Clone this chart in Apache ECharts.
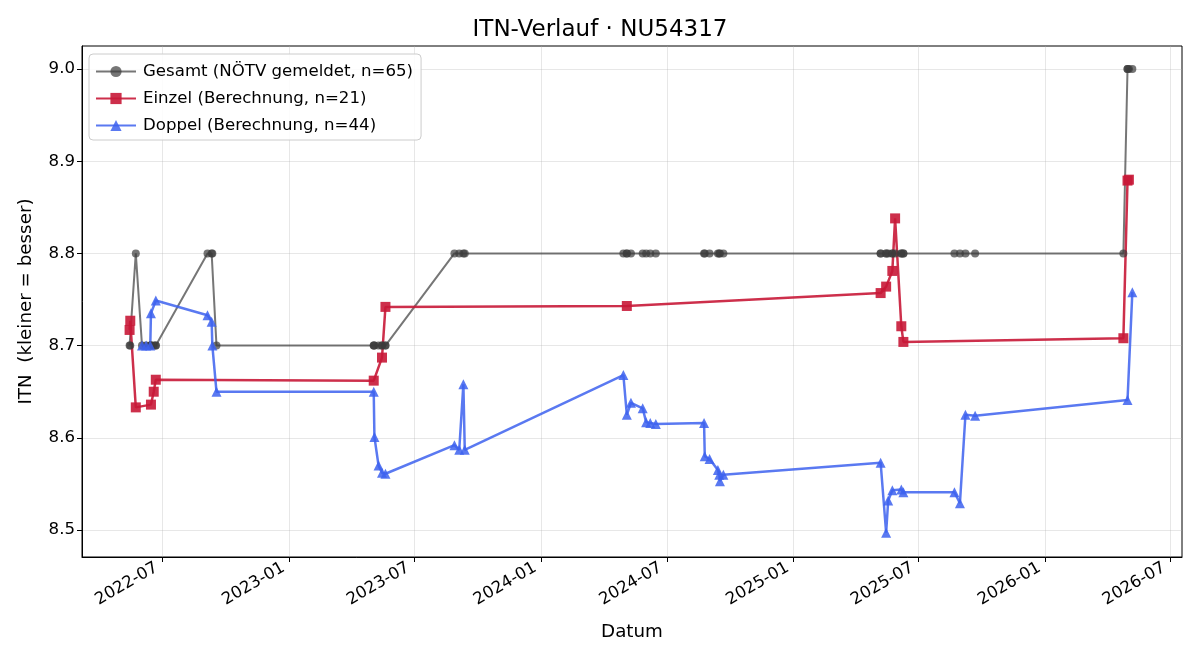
<!DOCTYPE html>
<html>
<head>
<meta charset="utf-8">
<title>ITN-Verlauf</title>
<script src="https://cdn.jsdelivr.net/npm/echarts@6/dist/echarts.min.js"></script>
<style>
  html, body { margin: 0; padding: 0; background: #fff; }
  #chart { width: 1200px; height: 660px; }
</style>
</head>
<body>
<div id="chart"></div>
<script>
// Gesamt (NÖTV gemeldet)
const gesamtDates = [
  '2022-05-14', '2022-05-15', '2022-05-23', '2022-06-01', '2022-06-07', '2022-06-13',
  '2022-06-14', '2022-06-14', '2022-06-18', '2022-06-21', '2022-06-21', '2022-09-04',
  '2022-09-10', '2022-09-11', '2022-09-17', '2023-05-03', '2023-05-03', '2023-05-04',
  '2023-05-10', '2023-05-15', '2023-05-15', '2023-05-20', '2023-05-20', '2023-08-28',
  '2023-09-04', '2023-09-10', '2023-09-12', '2024-04-29', '2024-05-04', '2024-05-04',
  '2024-05-10', '2024-05-27', '2024-06-01', '2024-06-07', '2024-06-15', '2024-08-24',
  '2024-08-25', '2024-09-01', '2024-09-13', '2024-09-15', '2024-09-16', '2024-09-21',
  '2025-05-07', '2025-05-07', '2025-05-15', '2025-05-15', '2025-05-18', '2025-05-24',
  '2025-05-24', '2025-05-28', '2025-06-06', '2025-06-06', '2025-06-09', '2025-06-09',
  '2025-08-22', '2025-08-30', '2025-09-07', '2025-09-21', '2026-04-24', '2026-04-30',
  '2026-04-30', '2026-05-02', '2026-05-07'
];
const gesamtValues = [
  8.70, 8.70, 8.80, 8.70, 8.70, 8.70,
  8.70, 8.70, 8.70, 8.70, 8.70, 8.80,
  8.80, 8.80, 8.70, 8.70, 8.70, 8.70,
  8.70, 8.70, 8.70, 8.70, 8.70, 8.80,
  8.80, 8.80, 8.80, 8.80, 8.80, 8.80,
  8.80, 8.80, 8.80, 8.80, 8.80, 8.80,
  8.80, 8.80, 8.80, 8.80, 8.80, 8.80,
  8.80, 8.80, 8.80, 8.80, 8.80, 8.80,
  8.80, 8.80, 8.80, 8.80, 8.80, 8.80,
  8.80, 8.80, 8.80, 8.80, 8.80, 9.00,
  9.00, 9.00, 9.00
];

// Einzel (Berechnung)
const einzelDates = [
  '2022-05-14', '2022-05-15', '2022-05-23', '2022-06-14', '2022-06-18', '2022-06-21',
  '2023-05-03', '2023-05-15', '2023-05-20', '2024-05-04', '2025-05-07', '2025-05-15',
  '2025-05-24', '2025-05-28', '2025-06-06', '2025-06-09', '2026-04-24', '2026-04-30',
  '2026-05-02'
];
const einzelValues = [
  8.717, 8.727, 8.633, 8.636, 8.650, 8.663,
  8.662, 8.687, 8.742, 8.743, 8.757, 8.764,
  8.781, 8.838, 8.721, 8.704, 8.708, 8.879,
  8.880
];

// Doppel (Berechnung)
const doppelDates = [
  '2022-06-01', '2022-06-07', '2022-06-13', '2022-06-14', '2022-06-21', '2022-09-04',
  '2022-09-10', '2022-09-11', '2022-09-17', '2023-05-03', '2023-05-04', '2023-05-10',
  '2023-05-15', '2023-05-20', '2023-08-28', '2023-09-04', '2023-09-10', '2023-09-12',
  '2024-04-29', '2024-05-04', '2024-05-10', '2024-05-27', '2024-06-01', '2024-06-07',
  '2024-06-15', '2024-08-24', '2024-08-25', '2024-09-01', '2024-09-13', '2024-09-15',
  '2024-09-16', '2024-09-21', '2025-05-07', '2025-05-15', '2025-05-18', '2025-05-24',
  '2025-06-06', '2025-06-09', '2025-08-22', '2025-08-30', '2025-09-07', '2025-09-21',
  '2026-04-30', '2026-05-07'
];
const doppelValues = [
  8.700, 8.700, 8.700, 8.735, 8.749, 8.733,
  8.726, 8.700, 8.650, 8.650, 8.601, 8.570,
  8.562, 8.561, 8.592, 8.587, 8.658, 8.587,
  8.668, 8.625, 8.638, 8.632, 8.617, 8.616,
  8.615, 8.616, 8.580, 8.577, 8.565, 8.560,
  8.553, 8.560, 8.573, 8.497, 8.532, 8.543,
  8.544, 8.541, 8.541, 8.529, 8.625, 8.624,
  8.641, 8.758
];

const yTicks = [8.5, 8.6, 8.7, 8.8, 8.9, 9.0];
const xTicks = ['2022-07', '2023-01', '2023-07', '2024-01', '2024-07', '2025-01', '2025-07', '2026-01', '2026-07'];

function toTs(s) {
  const p = s.split('-').map(Number);
  return new Date(p[0], p[1] - 1, p[2] || 1).getTime();
}
function pairs(dates, values) {
  return dates.map((d, i) => [toTs(d), values[i]]);
}

const FONT = 'DejaVu Sans';
const chart = echarts.init(document.getElementById('chart'));

const option = {
  backgroundColor: '#fff',
  animation: false,
  textStyle: { fontFamily: FONT },
  title: {
    text: 'ITN-Verlauf · NU54317',
    left: 'center',
    top: 14,
    textStyle: { fontFamily: FONT, fontSize: 23, fontWeight: 'normal', color: '#000' }
  },
  legend: {
    orient: 'vertical',
    left: 89,
    top: 54,
    padding: [9, 8, 6, 6],
    itemGap: 10,
    itemWidth: 40,
    itemHeight: 14,
    backgroundColor: 'rgba(255,255,255,0.85)',
    borderColor: '#cccccc',
    borderWidth: 1,
    borderRadius: 4,
    textStyle: { fontFamily: FONT, fontSize: 16.6, color: '#000', padding: [0, 0, 0, 2] },
    data: ['Gesamt (NÖTV gemeldet, n=65)', 'Einzel (Berechnung, n=21)', 'Doppel (Berechnung, n=44)']
  },
  grid: {
    left: 82, right: 18, top: 46, bottom: 103,
    show: true, borderColor: '#000', borderWidth: 1
  },
  xAxis: {
    type: 'value',
    min: toTs('2022-03-06'),
    max: toTs('2026-07-18'),
    name: 'Datum',
    nameLocation: 'middle',
    nameGap: 66,
    nameTextStyle: { fontFamily: FONT, fontSize: 18.3, color: '#000' },
    axisLine: { show: true, lineStyle: { color: '#000', width: 1 } },
    axisTick: { show: true, length: 5, lineStyle: { color: '#000' }, customValues: xTicks.map(toTs) },
    axisLabel: {
      customValues: xTicks.map(toTs),
      rotate: 30,
      margin: 6,
      padding: [0, 7, 0, 0],
      fontFamily: FONT,
      fontSize: 16.6,
      color: '#000',
      formatter: v => {
        const d = new Date(v);
        return d.getFullYear() + '-' + String(d.getMonth() + 1).padStart(2, '0');
      }
    },
    splitLine: { show: true, lineStyle: { color: '#b0b0b0', opacity: 0.3 } }
  },
  yAxis: {
    type: 'value',
    min: 8.4707,
    max: 9.025,
    name: 'ITN  (kleiner = besser)',
    nameLocation: 'middle',
    nameGap: 47,
    nameTextStyle: { fontFamily: FONT, fontSize: 18.3, color: '#000' },
    axisLine: { show: true, lineStyle: { color: '#000', width: 1 } },
    axisTick: { show: true, length: 5, lineStyle: { color: '#000' }, customValues: yTicks },
    axisLabel: {
      customValues: yTicks,
      margin: 7,
      fontFamily: FONT,
      fontSize: 16.6,
      color: '#000',
      formatter: v => v.toFixed(1)
    },
    splitLine: { show: true, lineStyle: { color: '#b0b0b0', opacity: 0.3 } }
  },
  series: [
    {
      name: 'Gesamt (NÖTV gemeldet, n=65)',
      type: 'line',
      data: pairs(gesamtDates, gesamtValues),
      symbol: 'circle',
      symbolSize: 8,
      showAllSymbol: true,
      color: '#3c3c3c',
      lineStyle: { width: 2, color: '#3c3c3c', opacity: 0.7 },
      itemStyle: { color: '#3c3c3c', opacity: 0.7 }
    },
    {
      name: 'Einzel (Berechnung, n=21)',
      type: 'line',
      data: pairs(einzelDates, einzelValues),
      symbol: 'rect',
      symbolSize: 10,
      showAllSymbol: true,
      color: '#c81837',
      lineStyle: { width: 2.5, color: '#c81837', opacity: 0.9 },
      itemStyle: { color: '#c81837', opacity: 0.9 }
    },
    {
      name: 'Doppel (Berechnung, n=44)',
      type: 'line',
      data: pairs(doppelDates, doppelValues),
      symbol: 'triangle',
      symbolSize: 10,
      showAllSymbol: true,
      color: '#3d62ef',
      lineStyle: { width: 2.5, color: '#3d62ef', opacity: 0.85 },
      itemStyle: { color: '#3d62ef', opacity: 0.85 }
    }
  ]
};

chart.setOption(option);
</script>
</body>
</html>
